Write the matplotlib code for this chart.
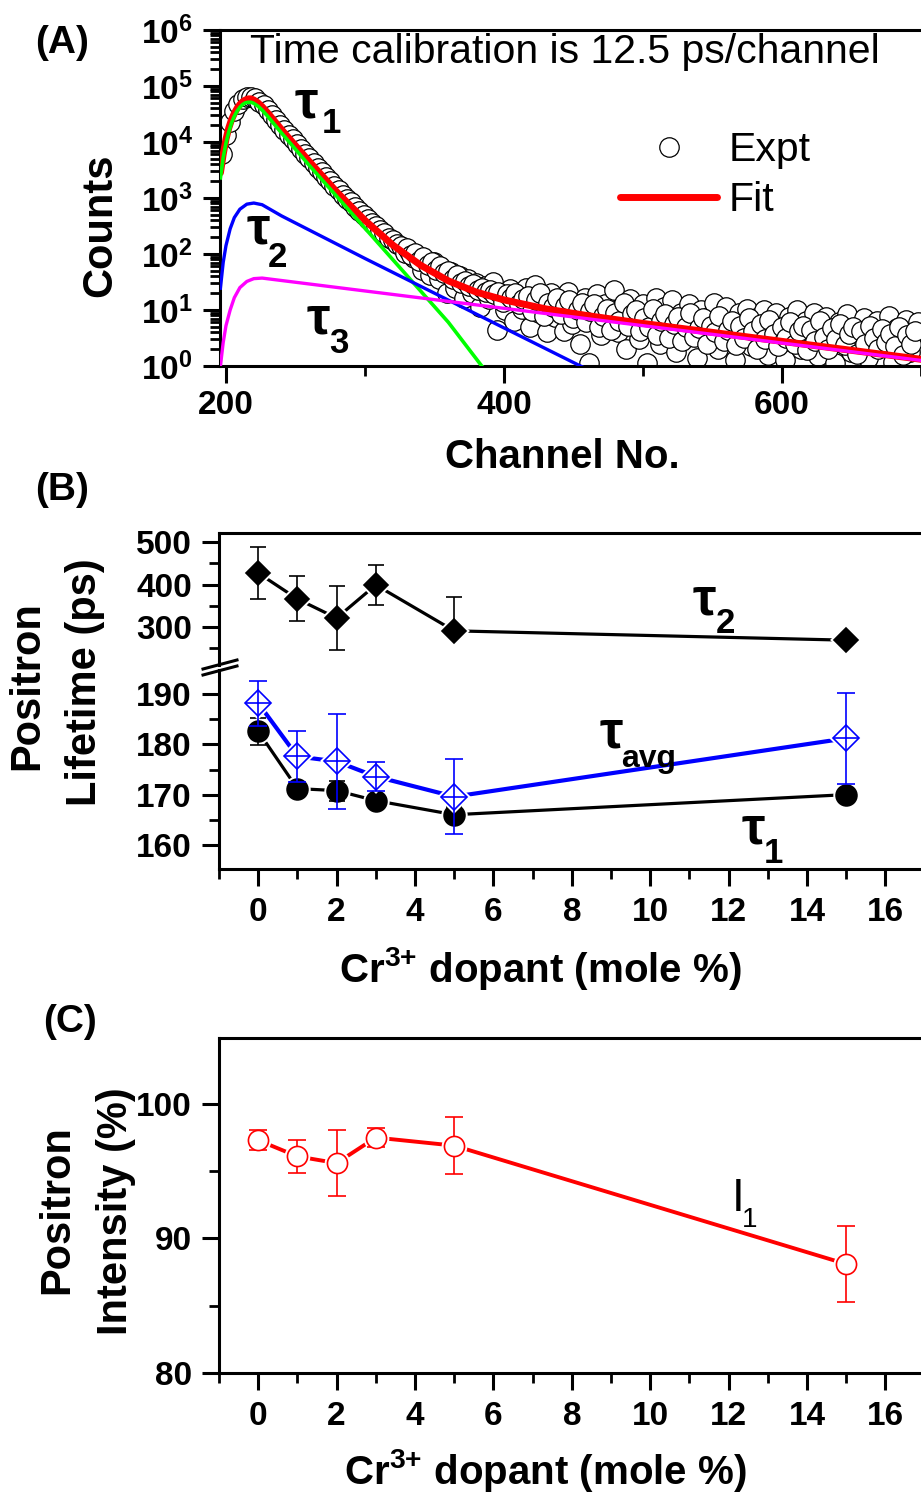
import numpy as np
import matplotlib
matplotlib.use('Agg')
import matplotlib.pyplot as plt
from matplotlib import font_manager
from matplotlib.lines import Line2D
from matplotlib.ticker import MultipleLocator, LogLocator, NullFormatter


# narrow bold face (Arial Narrow look) if the box has it
try:
    font_manager.findfont('Liberation Sans Narrow:bold', fallback_to_default=False)
    NARROW = 'Liberation Sans Narrow'
except ValueError:
    NARROW = 'Liberation Sans'

REG = ['Liberation Sans', 'DejaVu Sans']
plt.rcParams['font.family'] = [NARROW, 'Liberation Sans', 'DejaVu Sans']
plt.rcParams['font.weight'] = 'bold'
plt.rcParams['axes.linewidth'] = 2.2

# ---------------- (A) lifetime spectrum, log10(counts)
expt_chan = np.arange(197, 699, 3)
expt_log = [3.78, 4.12, 4.36, 4.55, 4.68, 4.77, 4.80, 4.81, 4.78, 4.72,
            4.66, 4.57, 4.49, 4.40, 4.31, 4.22, 4.13, 4.05, 3.96, 3.88,
            3.79, 3.71, 3.62, 3.54, 3.46, 3.38, 3.30, 3.22, 3.14, 3.06,
            2.99, 2.92, 2.84, 2.77, 2.70, 2.63, 2.55, 2.50, 2.42, 2.37,
            2.28, 2.25, 2.17, 2.14, 2.02, 2.06, 1.93, 1.97, 1.72, 1.90,
            1.62, 1.85, 1.55, 1.72, 1.30, 1.68, 1.40, 1.60, 1.22, 1.55,
            1.30, 1.48, 1.05, 1.42, 1.20, 1.50, 0.65, 1.30, 1.00, 1.38,
            0.80, 1.25, 1.02, 1.40, 0.70, 1.45, 0.95, 1.20, 0.60, 1.30,
            0.88, 1.15, 0.62, 1.32, 0.75, 1.05, 0.40, 1.22, 0.05, 0.95,
            1.28, 0.55, 1.10, 0.78, 1.35, 0.60, 1.05, 0.30, 1.20, 0.85,
            0.48, 1.10, 0.05, 0.92, 1.22, 0.40, 1.05, 0.70, 1.18, 0.25,
            0.95, 0.58, 1.10, 0.82, 0.15, 1.00, 0.48, 0.90, 1.12, 0.30,
            0.78, 1.05, 0.55, 0.10, 0.95, 0.65, 1.02, 0.35, 0.85, 0.60,
            1.00, 0.20, 0.75, 0.95, 0.45, 0.10, 0.88, 0.62, 1.00, 0.30,
            0.80, 0.52, 0.95, 0.18, 0.70, 0.88, 0.40, 0.05, 0.78, 0.60,
            0.92, 0.25, 0.70, 0.48, 0.85, 0.15, 0.62, 0.80, 0.35, 0.55,
            0.90, 0.08, 0.68, 0.45, 0.82, 0.25, 0.60, 0.78]
# in-between channels of the tail (330, 333, ... 696)
expt_tail_log = [2.10, 1.98, 2.02, 1.88, 1.95, 1.80, 1.86, 1.72, 1.78, 1.66,
                 1.70, 1.55, 1.62, 1.48, 1.52, 1.42, 1.46, 1.36, 1.40, 1.33,
                 1.36, 1.28, 1.32, 1.15, 1.28, 1.22, 1.30, 1.10, 1.20, 1.25,
                 0.98, 1.18, 1.30, 0.90, 1.12, 1.05, 1.22, 0.92, 1.08, 1.18,
                 0.85, 1.00, 1.12, 0.78, 0.98, 1.10, 0.70, 0.90, 1.02, 0.65,
                 0.95, 0.80, 1.12, 0.72, 0.92, 1.00, 0.62, 0.85, 0.70, 1.02,
                 0.55, 0.80, 0.92, 0.50, 0.75, 0.88, 0.45, 0.70, 0.95, 0.52,
                 0.68, 0.85, 0.40, 0.72, 0.60, 0.90, 0.45, 0.65, 0.80, 0.38,
                 0.72, 0.50, 0.85, 0.62, 0.30, 0.75, 0.48, 0.82, 0.58, 0.35,
                 0.70, 0.50, 0.78, 0.40, 0.62, 0.72, 0.28, 0.65, 0.45, 0.80,
                 0.52, 0.30, 0.68, 0.48, 0.75, 0.38, 0.58, 0.70, 0.22, 0.62,
                 0.40, 0.72, 0.50, 0.30, 0.66, 0.42, 0.58, 0.35, 0.70, 0.20,
                 0.55, 0.40, 0.62]
expt_tail_chan = np.arange(330, 330 + 3 * len(expt_tail_log), 3)

fit_chan = [196, 198, 200, 202, 204, 206, 208, 210, 212, 214, 216, 218, 220, 223,
            226, 230, 240, 260, 280, 300, 320, 340, 360, 380, 400, 430, 460, 500,
            550, 600, 650, 700]
fit_log = [3.45, 3.78, 4.05, 4.25, 4.40, 4.51, 4.60, 4.67, 4.72, 4.75, 4.77, 4.77,
           4.75, 4.70, 4.63, 4.52, 4.22, 3.65, 3.10, 2.60, 2.16, 1.80, 1.52, 1.32,
           1.18, 1.02, 0.90, 0.76, 0.60, 0.44, 0.28, 0.12]

tau1_chan = [196, 198, 200, 202, 204, 206, 208, 210, 212, 214, 216, 218, 220, 223,
             226, 230, 240, 260, 280, 300, 320, 340, 360, 384, 390]
tau1_log = [3.36, 3.72, 3.98, 4.18, 4.34, 4.46, 4.55, 4.62, 4.67, 4.70, 4.71, 4.71,
            4.69, 4.64, 4.57, 4.46, 4.16, 3.58, 3.02, 2.46, 1.90, 1.34, 0.78, 0.0, -0.17]

tau2_chan = [196, 198, 200, 203, 206, 210, 215, 220, 226, 240, 300, 350, 400, 455, 465]
tau2_log = [1.39, 1.85, 2.15, 2.45, 2.65, 2.80, 2.89, 2.91, 2.88, 2.68, 1.92, 1.30,
            0.68, 0.0, -0.12]

tau3_chan = [196, 198, 200, 203, 206, 210, 215, 220, 226, 300, 400, 500, 600, 700]
tau3_log = [0.0, 0.42, 0.72, 1.00, 1.22, 1.40, 1.51, 1.56, 1.57, 1.34, 1.03, 0.72,
            0.41, 0.10]

# ---------------- (B) and (C) vs Cr3+ content
dopant = [0, 1, 2, 3, 5, 15]
tau2_ps = [427, 366, 321, 399, 291, 269]
tau2_err_lo = [61, 53, 75, 47, 0, 0]
tau2_err_hi = [61, 53, 75, 47, 80, 0]
tau1_ps = [182.6, 171.2, 170.8, 168.8, 166.0, 170.0]
tau1_err = [2.7, 1.4, 2.0, 0.5, 1.5, 0.5]
tavg_ps = [188.2, 177.6, 176.6, 173.6, 169.6, 181.2]
tavg_err = [4.5, 5.0, 9.4, 2.8, 7.5, 9.0]
intensity1 = [97.3, 96.1, 95.6, 97.5, 96.9, 88.1]
intensity1_err = [0.75, 1.2, 2.45, 0.7, 2.1, 2.8]

CR_LABEL = r'Cr$^{\mathdefault{3{+}}}$ dopant (mole %)'

W, H = 921, 1495
fig = plt.figure(figsize=(W / 100, H / 100), dpi=100)


def box(left, top, right, bottom):
    return [left / W, 1 - bottom / H, (right - left) / W, (bottom - top) / H]


def ftext(x, y, s, **kw):
    return fig.text(x / W, 1 - y / H, s, **kw)


def style(ax, xpad=8):
    ax.spines['right'].set_visible(False)
    ax.tick_params(which='major', direction='out', length=12.5, width=2.2,
                   labelsize=24, right=False, top=False)
    ax.tick_params(which='minor', direction='out', length=7, width=2.0,
                   right=False, top=False)
    ax.tick_params(axis='x', pad=xpad)
    ax.tick_params(axis='y', pad=7)


def series(ax, x, y, yerr, marker, ms, color, face, lw, cap, z):
    ax.plot(x, y, '-', color=color, lw=lw, zorder=z)
    # white halo gives the little gap between line and symbol
    ax.plot(x, y, ls='none', marker=marker, ms=ms, mfc='white', mec='white',
            mew=4, zorder=z + 0.1)
    ax.errorbar(x, y, yerr=yerr, fmt='none', ecolor=color, elinewidth=1.2,
                capsize=cap, capthick=1.2, zorder=z + 0.2)
    ax.plot(x, y, ls='none', marker=marker, ms=ms, mfc=face, mec=color,
            mew=1.2, zorder=z + 0.3)


# ================= (A)
axA = fig.add_axes(box(220, 30, 921, 366))
circ = dict(ls='none', marker='o', ms=14, mfc='white', mec='black', mew=0.9, zorder=2)
axA.plot(expt_chan, 10 ** np.array(expt_log), label='Expt', **circ)
axA.plot(expt_tail_chan, 10 ** np.array(expt_tail_log), **circ)
axA.plot(fit_chan, 10 ** np.array(fit_log), color='red', lw=5,
         solid_capstyle='round', zorder=3, label='Fit')
axA.plot(tau1_chan, 10 ** np.array(tau1_log), color='#00ff00', lw=2.6, zorder=4)
axA.plot(tau2_chan, 10 ** np.array(tau2_log), color='#0000ff', lw=2.4, zorder=4)
axA.plot(tau3_chan, 10 ** np.array(tau3_log), color='#ff00ff', lw=2.4, zorder=5)
axA.set_yscale('log')
axA.set_ylim(1, 1e6)
axA.set_xlim(195.7, 700)
axA.xaxis.set_major_locator(MultipleLocator(200))
axA.xaxis.set_minor_locator(MultipleLocator(100))
axA.yaxis.set_major_locator(LogLocator(base=10, numticks=10))
axA.yaxis.set_minor_locator(LogLocator(base=10, subs=np.arange(2, 10), numticks=20))
axA.yaxis.set_minor_formatter(NullFormatter())
style(axA, xpad=5)

axA.legend(loc='upper left', bbox_to_anchor=(620 / W, 1 - 131 / H),
           bbox_transform=fig.transFigure, frameon=False, borderpad=0,
           borderaxespad=0, handlelength=2.37, handletextpad=0.27,
           labelspacing=0.29, numpoints=1,
           prop=dict(family=REG, size=29.5, weight='normal'))

ftext(250, 63, 'Time calibration is 12.5 ps/channel', family=REG,
      weight='normal', size=29.5, va='baseline')
for tx, ty, sub, sx, sy in [(295, 117, '1', 322, 133),
                            (247, 243, '2', 268, 267),
                            (307, 333, '3', 329, 353)]:
    ftext(tx, ty, 'τ', size=38, va='baseline')
    ftext(sx, sy, sub, size=25, va='baseline')

ftext(62, 43, '(A)', size=28, ha='center', va='center')
ftext(100, 225, 'Counts', size=30, rotation=90, ha='center', va='center')
ftext(562, 468, 'Channel No.', size=29, ha='center', va='baseline')

# ================= (B) broken lifetime axis
axBu = fig.add_axes(box(219, 533, 921, 665))
axBl = fig.add_axes(box(219, 670, 921, 869))

series(axBu, dopant, tau2_ps, [tau2_err_lo, tau2_err_hi], 'D', 12.2, 'black',
       'black', 2.3, 5.8, 2)
series(axBl, dopant, tau1_ps, tau1_err, 'o', 15, 'black', 'black', 2.3, 5.8, 2)
series(axBl, dopant, tavg_ps, tavg_err, 'D', 13.2, '#0000ff', 'white', 3.0, 6.5, 3)
axBl.plot(dopant, tavg_ps, ls='none', marker='+', ms=18.5, mec='#0000ff',
          mew=1.2, zorder=3.5)

for ax in (axBu, axBl):
    ax.set_xlim(-1, 16.91)
    ax.xaxis.set_major_locator(MultipleLocator(2))
    ax.xaxis.set_minor_locator(MultipleLocator(1))
    style(ax)
axBu.set_ylim(210.6, 521.2)
axBu.yaxis.set_major_locator(MultipleLocator(100))
axBu.yaxis.set_minor_locator(MultipleLocator(50))
axBu.spines['bottom'].set_visible(False)
axBu.tick_params(axis='x', which='both', bottom=False, labelbottom=False)
axBl.set_ylim(155.2, 194.8)
axBl.yaxis.set_major_locator(MultipleLocator(10))
axBl.yaxis.set_minor_locator(MultipleLocator(5))
axBl.spines['top'].set_visible(False)

# the // break mark on the left axis
for dy in (0, 6):
    fig.add_artist(Line2D([203 / W, 237 / W], [1 - (669 + dy) / H, 1 - (660 + dy) / H],
                          color='black', lw=2.2))

ftext(693, 615, 'τ', size=38, va='baseline')
ftext(716, 633, '2', size=25, va='baseline')
ftext(600, 748, 'τ', size=38, va='baseline')
ftext(621, 767, 'avg', size=23, va='baseline')
ftext(742, 843, 'τ', size=38, va='baseline')
ftext(764, 863, '1', size=25, va='baseline')

ftext(62, 490, '(B)', size=28, ha='center', va='center')
ftext(27, 686, 'Positron', size=30, rotation=90, ha='center', va='center')
ftext(85, 682, 'Lifetime (ps)', size=30, rotation=90, ha='center', va='center')
ftext(540, 982, CR_LABEL, size=29, ha='center', va='baseline')

# ================= (C)
axC = fig.add_axes(box(219, 1038, 921, 1373))
series(axC, dopant, intensity1, intensity1_err, 'o', 14.5, 'red', 'white', 2.8, 6.2, 2)
axC.set_xlim(-1, 16.91)
axC.set_ylim(80, 104.9)
axC.xaxis.set_major_locator(MultipleLocator(2))
axC.xaxis.set_minor_locator(MultipleLocator(1))
axC.yaxis.set_major_locator(MultipleLocator(10))
axC.yaxis.set_minor_locator(MultipleLocator(5))
style(axC)

ftext(732, 1211, 'I', family=REG, weight='normal', size=33, va='baseline')
ftext(742, 1227, '1', family=REG, weight='normal', size=20, va='baseline')

ftext(70, 1022, '(C)', size=28, ha='center', va='center')
ftext(57, 1210, 'Positron', size=30, rotation=90, ha='center', va='center')
ftext(116, 1211, 'Intensity (%)', size=30, rotation=90, ha='center', va='center')
ftext(545, 1484, CR_LABEL, size=29, ha='center', va='baseline')

fig.savefig('out.png', dpi=100)
